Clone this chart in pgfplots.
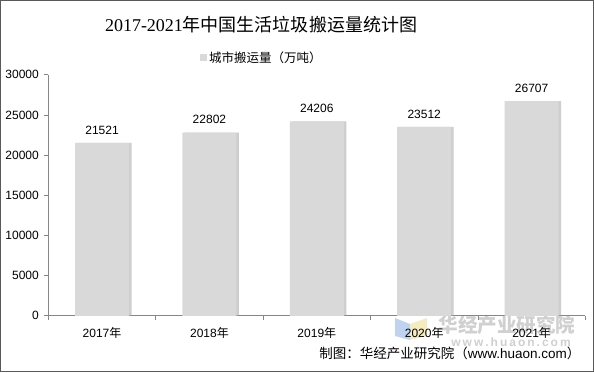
\documentclass[border=0pt]{standalone}
\usepackage{pgfplots}
\pgfplotsset{compat=1.18}
\usepackage{fontspec}
\setmainfont{Liberation Sans}
\newfontfamily\cjk{Noto Sans CJK SC}
\newfontfamily\serifdigits{Liberation Serif}
\definecolor{barfill}{HTML}{D9D9D9}
\definecolor{barshadow}{HTML}{A6A6A6}
\definecolor{axisgray}{HTML}{868686}
\definecolor{wmgray}{HTML}{D0D0D0}
\definecolor{logoblue}{HTML}{BFD3F0}
\definecolor{logoyellow}{HTML}{F5EBC0}
\begin{document}
\begin{tikzpicture}[x=1bp,y=1bp]
\useasboundingbox (0,0) rectangle (594,372);
\fill[white] (0,0) rectangle (594,372);
\draw[color=black!65, line width=1bp] (0.5,0.5) rectangle (593.5,371.5);
% watermark
\fill[logoblue] (395,54) -- (410,48) -- (410,32) -- (395,36) -- cycle;
\fill[logoyellow] (410,48) -- (427,54) -- (427,36) -- (410,32) -- cycle;
\node[text=wmgray, font=\fontsize{19.5bp}{22bp}\selectfont\cjk\bfseries, anchor=center] at (507,47) {华经产业研究院};
\node[text=wmgray, font=\fontsize{12bp}{14bp}\selectfont\bfseries, anchor=center] at (511,30) {w\,w\,w\,.\,h\,u\,a\,o\,n\,.\,c\,o\,m};
\begin{axis}[
  at={(45,70)}, anchor=south west,
  scale only axis,
  width=537bp, height=241bp,
  xmin=-0.5, xmax=4.5,
  ymin=0, ymax=30000,
  axis lines=left,
  axis line style={-, draw=axisgray, line width=0.8bp},
  xtick={0,1,2,3,4},
  xticklabels={2017{\cjk 年},2018{\cjk 年},2019{\cjk 年},2020{\cjk 年},2021{\cjk 年}},
  minor xtick={-0.5,0.5,1.5,2.5,3.5,4.5},
  major x tick style={draw=none},
  minor x tick style={draw=axisgray, line width=0.8bp},
  minor tick length=4bp,
  ytick={0,5000,10000,15000,20000,25000,30000},
  y tick style={draw=axisgray, line width=0.8bp},
  major tick length=4bp,
  tick align=outside,
  scaled y ticks=false,
  /pgf/number format/1000 sep={},
  /pgf/number format/assume math mode=true,
  tick label style={font=\fontsize{12bp}{14bp}\selectfont},
  xticklabel style={yshift=-4bp},
  yticklabel style={xshift=-2bp},
  legend style={at={(axis description cs:0.3976,1.0705)}, anchor=center, draw=none, fill=none,
    font=\fontsize{12.5bp}{14bp}\selectfont\cjk, inner sep=0pt},
  legend image code/.code={\fill[barfill] (0bp,-3.5bp) rectangle (7bp,3.5bp);},
  clip=false,
]
\addplot[ybar, bar width=54bp, bar shift=2.5bp, fill=barshadow, draw=none, fill opacity=0.55, forget plot]
  coordinates {(0,21521) (1,22802) (2,24206) (3,23512) (4,26707)};
\addplot[ybar, bar width=54bp, bar shift=0bp, fill=barfill, draw=none,
  nodes near coords,
  nodes near coords style={font=\fontsize{12bp}{14bp}\selectfont, anchor=south, yshift=5bp, text=black},
  /pgf/number format/1000 sep={}]
  coordinates {(0,21521) (1,22802) (2,24206) (3,23512) (4,26707)};
\addlegendentry{城市搬运量（万吨）}
\end{axis}
\node[anchor=center, font=\fontsize{18bp}{22bp}\selectfont] at (261,347) {{\serifdigits 2017-2021}{\cjk 年中国生活垃圾搬运量统计图}};
\node[anchor=east, font=\fontsize{13.5bp}{16bp}\selectfont] at (584,19) {{\cjk 制图：华经产业研究院（}www.huaon.com{\cjk ）}};
\end{tikzpicture}
\end{document}
